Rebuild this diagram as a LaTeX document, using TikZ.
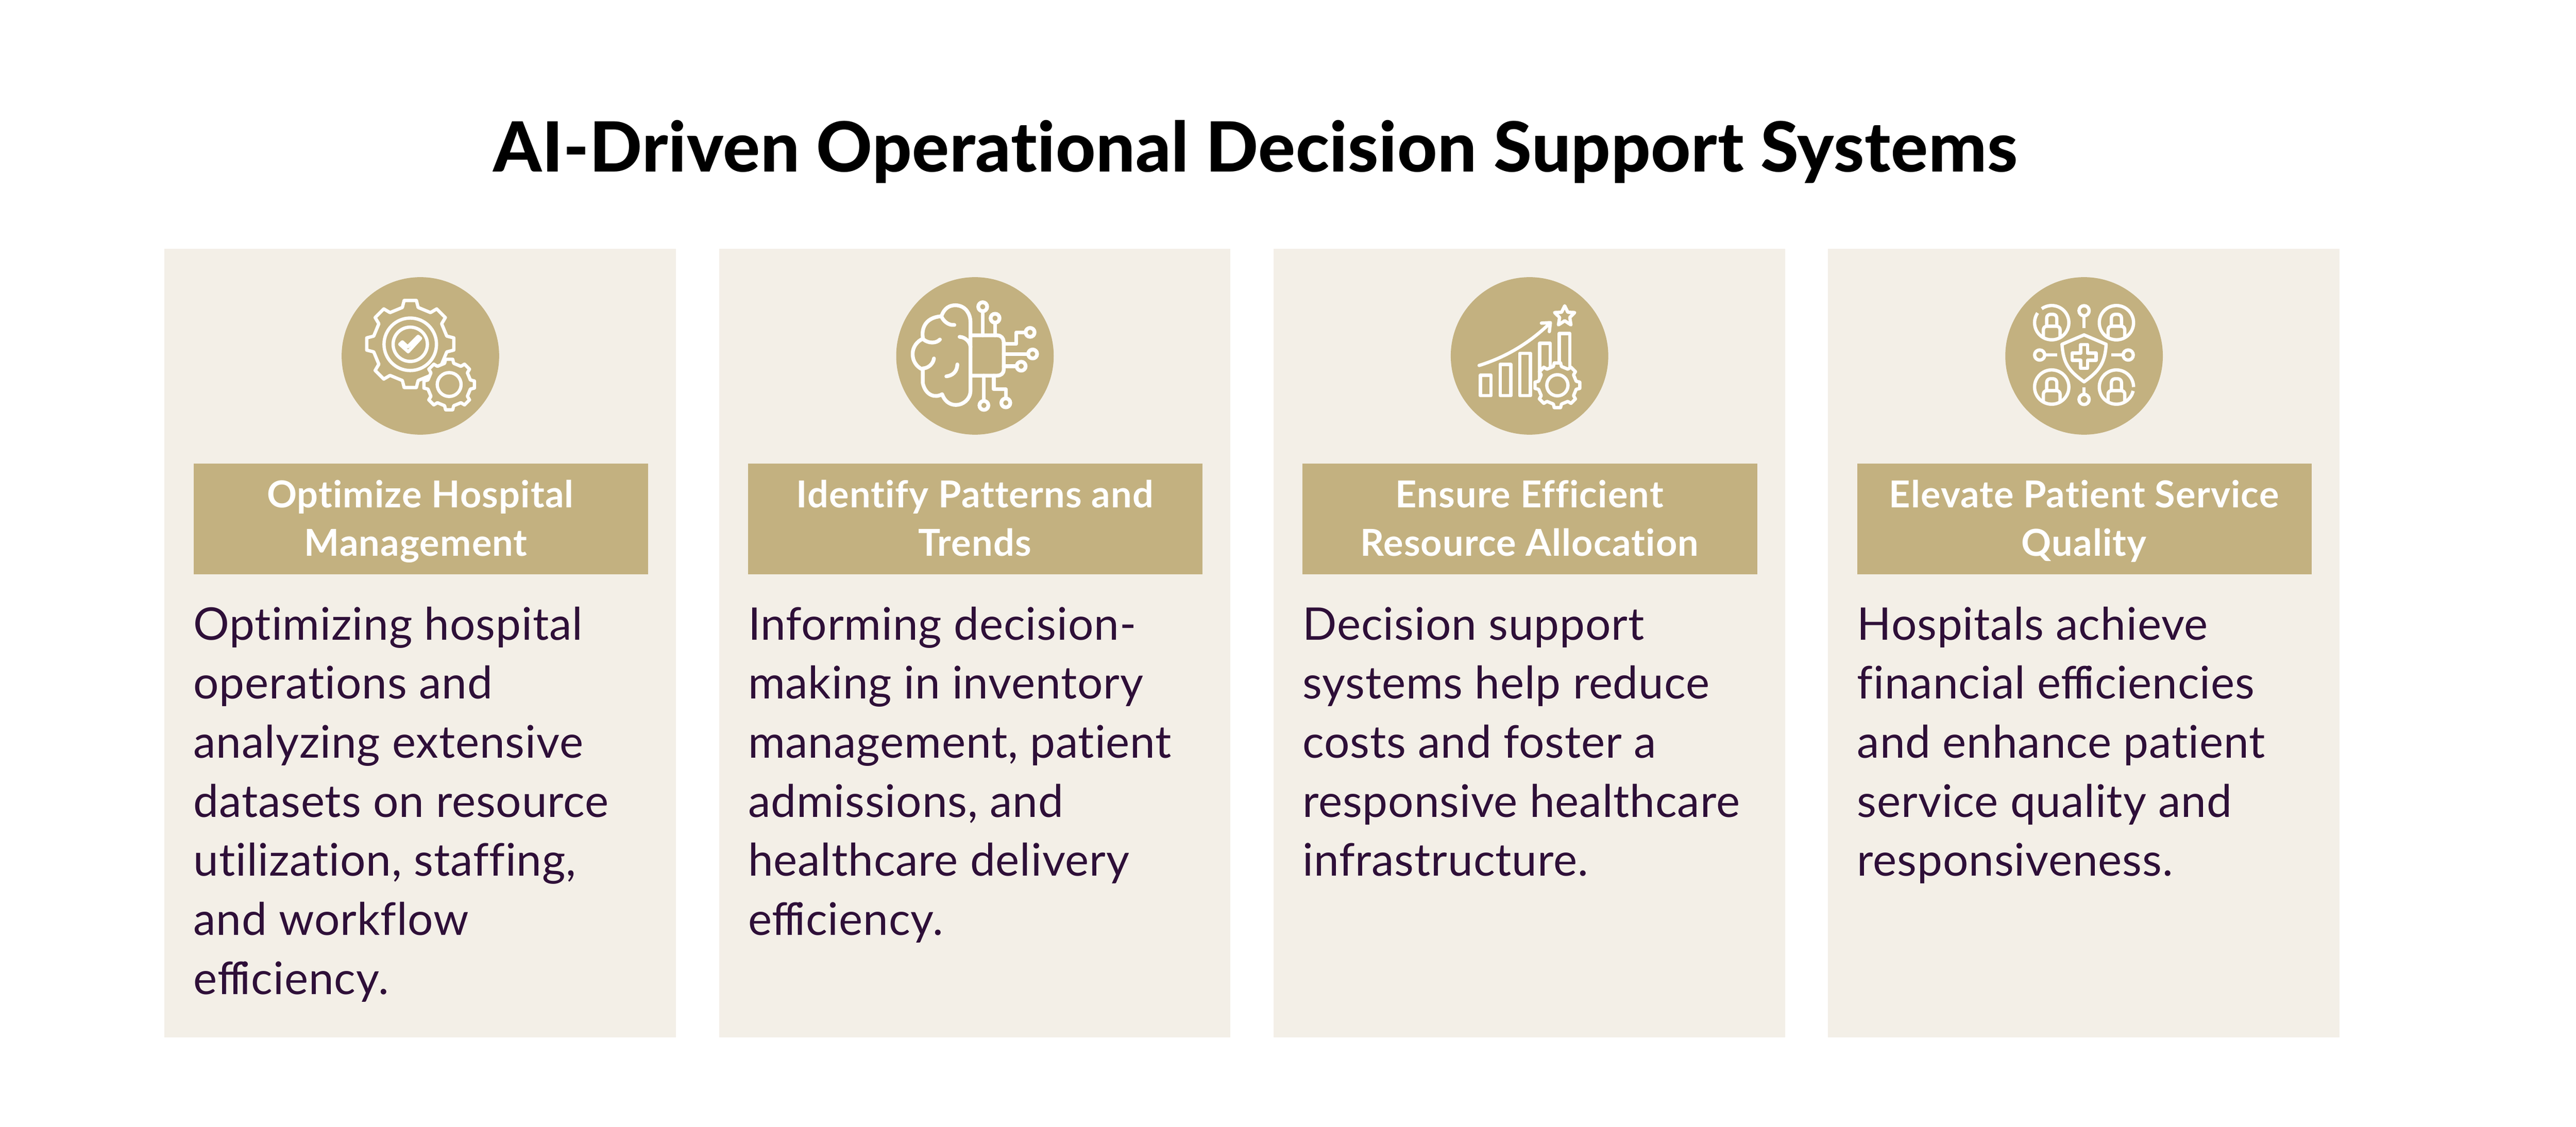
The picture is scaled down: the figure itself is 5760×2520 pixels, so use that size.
\documentclass[tikz,border=0pt]{standalone}
\usepackage{fontspec}
\setmainfont[Ligatures=NoCommon]{Lato}
\newfontfamily\titlefont[BoldFont=Lato Heavy,LetterSpace=0.5,Ligatures=NoCommon]{Lato}
\newfontfamily\bandface[LetterSpace=1.6,Ligatures=NoCommon]{Lato}
\newfontfamily\bodyface[LetterSpace=1.0,Ligatures=NoCommon]{Lato}
\definecolor{tan}{HTML}{C3B180}
\definecolor{panelbg}{HTML}{F3EFE7}
\definecolor{bodyink}{HTML}{2E0F38}
\tikzset{
  x=0.01cm,y=-0.01cm,
  panel/.style={fill=panelbg,draw=none,minimum width=11.43cm,minimum height=17.62cm,inner sep=0pt,anchor=north west},
  band/.style={fill=tan,draw=none,minimum width=10.16cm,minimum height=2.48cm,inner sep=0pt,anchor=north west},
  disc/.style={fill=tan,draw=none,circle,minimum size=3.52cm,inner sep=0pt},
  bandtext/.style={inner sep=0pt,anchor=base,text=white},
  bodytext/.style={inner sep=0pt,anchor=base west,text=bodyink},
  iconline/.style={draw=white,line width=2.1pt,line join=round},
  rndline/.style={iconline,line cap=round},
}
\newcommand{\bandfont}{\bandface\fontsize{23.6pt}{30.73pt}\selectfont\bfseries}
\newcommand{\bodyfont}{\bodyface\fontsize{28.6pt}{37.56pt}\selectfont}
\newcommand{\tightffi}{f\kern-.1em f\kern-.1em i}
% one card: #1 name, #2 left x, #3 band text, #4 body text
\newcommand{\card}[4]{%
  \node[panel] (#1panel) at (#2,556) {};
  \node[band] (#1band) at (#2+65,1036) {};
  \node[disc] (#1disc) at (#2+573,796) {};
  \node[bandtext] (#1head) at (#2+573,1135) {\parbox[t]{10cm}{\centering\bandfont #3}};
  \node[bodytext] (#1body) at (#2+65,1431) {\parbox[t]{10.8cm}{\raggedright\bodyfont #4}};
}
% eight-tooth gear, centre and size in zoom units
\newcommand{\geartrain}[3]{%
  \begin{scope}[shift={(#1,#2)},scale=#3]
    \draw[iconline,fill=tan] (-53,-245)
      \foreach \a in {0,45,...,315}{
        -- ({-53*cos(\a)+245*sin(\a)},{-53*sin(\a)-245*cos(\a)})
        -- ({-41*cos(\a)+292*sin(\a)},{-41*sin(\a)-292*cos(\a)})
        -- ({41*cos(\a)+292*sin(\a)},{41*sin(\a)-292*cos(\a)})
        -- ({53*cos(\a)+245*sin(\a)},{53*sin(\a)-245*cos(\a)})
      } -- cycle;
  \end{scope}}
% person inside a ring
\newcommand{\person}[2]{%
  \begin{scope}[shift={(#1,#2)}]
    \draw[iconline] (-34,22) -- (-34,-30) .. controls (-34,-45) and (-23,-56) .. (-8,-56) -- (8,-56) .. controls (23,-56) and (34,-45) .. (34,-30) -- (34,22);
    \draw[iconline] (-56,98) -- (-56,48) .. controls (-56,34) and (-46,24) .. (-32,24) -- (32,24) .. controls (46,24) and (56,34) .. (56,48) -- (56,98);
  \end{scope}}
\begin{document}
\begin{tikzpicture}
\useasboundingbox (0,0) rectangle (5760,2520);
\fill[white] (0,0) rectangle (5760,2520);
\node[inner sep=0pt,anchor=base,text=black] (title) at (2807,384)
  {\titlefont\fontsize{44pt}{50pt}\selectfont\bfseries AI-Driven Operational Decision Support Systems};
\card{a}{367}{Optimize Hospital\\Management\hspace*{5.7pt}}{Optimizing hospital\\operations and\\analyzing extensive\\datasets on resource\\utilization, staffing,\\and workflow\\e\tightffi ciency.}
\card{b}{1607}{Identify Patterns and\\Trends}{Informing decision-\\making in inventory\\management, patient\\admissions, and\\healthcare delivery\\e\tightffi ciency.}
\card{c}{2847}{Ensure Efficient\\Resource Allocation}{Decision support\\systems help reduce\\costs and foster a\\responsive healthcare\\infrastructure.}
\card{d}{4087}{Elevate Patient Service\\Quality}{Hospitals achieve\\financial e\tightffi ciencies\\and enhance patient\\service quality and\\responsiveness.}

% icon 1: gears
\begin{scope}[shift={(740,600)},scale=1/3]
  \geartrain{532}{508}{1}
  \draw[iconline] (532,510) circle (176);
  \draw[iconline] (532,510) circle (115);
  \draw[iconline] (462,510) -- (479,494) -- (515,527) -- (585,457) -- (601,470) -- (518,560) -- cycle;
  \geartrain{793}{780}{0.58}
  \draw[iconline] (793,780) circle (80);
\end{scope}

% icon 2: brain and chip
\begin{scope}[shift={(1980,600)},scale=1/3]
  \begin{scope}[iconline,line width=2.4pt,line cap=round]
    \draw (375,322) .. controls (395,265) and (430,248) .. (470,248)
       .. controls (540,250) and (570,310) .. (570,360) -- (570,820)
       .. controls (570,880) and (520,917) .. (472,917)
       .. controls (430,917) and (395,890) .. (380,845)
       .. controls (340,870) and (270,860) .. (250,770) -- (250,680)
       .. controls (205,660) and (182,620) .. (182,575)
       .. controls (182,530) and (210,490) .. (252,472)
       .. controls (240,420) and (255,330) .. (375,322)
       .. controls (385,350) and (420,385) .. (462,380);
    \draw (255,478) .. controls (290,505) and (340,505) .. (365,478);
    \draw (250,672) .. controls (290,670) and (320,640) .. (325,605);
    \draw (408,725) .. controls (450,720) and (480,695) .. (482,645);
    \draw (497,460) .. controls (540,462) and (570,500) .. (570,530);
    \draw (570,450) -- (750,450) .. controls (775,450) and (793,470) .. (793,495) -- (793,680) .. controls (793,705) and (775,720) .. (750,720) -- (570,720);
    \draw (652,258) circle (30);
    \draw (652,288) -- (652,450);
    \draw (735,335) circle (30);
    \draw (735,365) -- (735,450);
    \draw (970,430) circle (30);
    \draw (940,430) -- (877,430) -- (877,507) -- (793,507);
    \draw (987,575) circle (30);
    \draw (957,575) -- (793,575);
    \draw (910,657) circle (30);
    \draw (880,657) -- (793,657);
    \draw (660,920) circle (30);
    \draw (660,890) -- (660,720);
    \draw (807,903) circle (30);
    \draw (807,873) -- (807,812) -- (727,812) -- (727,720);
  \end{scope}
\end{scope}

% icon 3: bars, arrow, star, gear
\begin{scope}[shift={(3230,600)},scale=1/3]
  \draw[iconline] (240,718) rectangle (312,855);
  \draw[iconline] (373,645) rectangle (445,855);
  \draw[iconline] (505,570) rectangle (576,855);
  \draw[iconline] (638,503) rectangle (708,770);
  \draw[iconline] (770,437) rectangle (840,770);
  \draw[rndline] (232,652) .. controls (400,600) and (560,510) .. (703,372);
  \draw[rndline] (650,368) -- (710,365) -- (703,425);
  \draw[iconline] (806,252) -- (827,295) -- (873,297) -- (840,330) -- (848,380) -- (806,352) -- (764,380) -- (772,330) -- (738,297) -- (785,295) -- cycle;
  \geartrain{757}{785}{0.514}
  \draw[iconline] (757,785) circle (71);
\end{scope}

% icon 4: people and shield
\begin{scope}[shift={(4470,600)},scale=1/3]
  \draw[iconline,domain=234.4:574.4,samples=60] plot ({353+115*cos(\x)},{365+115*sin(\x)});
  \draw[iconline] (787,365) circle (115);
  \draw[iconline] (353,797) circle (115);
  \draw[iconline,domain=13:360,samples=60] plot ({787+115*cos(\x)},{797+115*sin(\x)});
  \person{353}{365}
  \person{787}{365}
  \person{353}{797}
  \person{787}{797}
  \draw[iconline] (570,285) circle (34);
  \draw[iconline] (570,319) -- (570,400);
  \draw[iconline] (570,880) circle (34);
  \draw[iconline] (570,846) -- (570,798);
  \draw[iconline] (272,582) circle (34);
  \draw[iconline] (306,582) -- (388,582);
  \draw[iconline] (866,582) circle (34);
  \draw[iconline] (832,582) -- (752,582);
  \draw[iconline] (570,447) -- (718,510) .. controls (710,640) and (670,690) .. (570,762) .. controls (470,690) and (430,640) .. (422,510) -- cycle;
  \draw[iconline] (547,512) -- (593,512) -- (593,569) -- (650,569) -- (650,617) -- (593,617) -- (593,672) -- (547,672) -- (547,617) -- (490,617) -- (490,569) -- (547,569) -- cycle;
\end{scope}
\end{tikzpicture}
\end{document}
